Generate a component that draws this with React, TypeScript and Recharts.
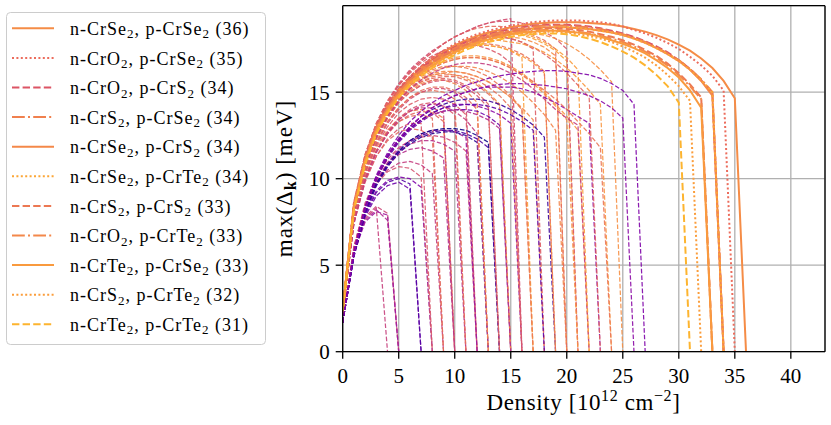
import React from 'react';
import { LineChart, Line, XAxis, YAxis, CartesianGrid, ReferenceLine } from 'recharts';

const X_MAX = 43.05;
const Y_MAX = 20;
const xTicks = [0, 5, 10, 15, 20, 25, 30, 35, 40];
const yTicks = [0, 5, 10, 15];

// highlighted pairs (legend order)
const nMaterial = ['CrSe', 'CrO', 'CrO', 'CrS', 'CrSe', 'CrSe', 'CrS', 'CrO', 'CrTe', 'CrS', 'CrTe'];
const pMaterial = ['CrSe', 'CrSe', 'CrS', 'CrSe', 'CrS', 'CrTe', 'CrS', 'CrTe', 'CrSe', 'CrTe', 'CrTe'];
const maxDensity = [36, 35, 34, 34, 34, 34, 33, 33, 33, 32, 31];

// max gap per density step (index = density in 1e12 cm^-2)
const seSe36 = [2.4, 8.5, 11.2, 13.0, 14.2, 15.1, 15.8, 16.4, 16.9, 17.3, 17.7, 18.0, 18.25, 18.45, 18.6, 18.75, 18.85, 18.95, 19.0, 19.05, 19.05, 19.05, 19.0, 18.95, 18.9, 18.8, 18.65, 18.5, 18.3, 18.05, 17.75, 17.4, 16.95, 16.4, 15.65, 14.65, 0];
const oSe35 = [2.4, 8.6, 11.3, 13.1, 14.3, 15.2, 15.9, 16.5, 17.0, 17.4, 17.8, 18.1, 18.35, 18.55, 18.7, 18.85, 18.95, 19.05, 19.1, 19.15, 19.15, 19.15, 19.1, 19.05, 18.95, 18.8, 18.6, 18.4, 18.15, 17.85, 17.5, 17.05, 16.55, 15.95, 15.1, 0];
const oS34 = [2.4, 8.5, 11.2, 13.0, 14.2, 15.1, 15.8, 16.4, 16.85, 17.25, 17.6, 17.9, 18.15, 18.35, 18.5, 18.65, 18.75, 18.85, 18.9, 18.9, 18.9, 18.85, 18.8, 18.7, 18.55, 18.4, 18.2, 17.95, 17.65, 17.3, 16.85, 16.35, 15.7, 14.9, 0];
const sSe34 = [2.4, 8.4, 11.1, 12.9, 14.1, 15.0, 15.7, 16.3, 16.8, 17.2, 17.55, 17.85, 18.1, 18.3, 18.45, 18.6, 18.7, 18.8, 18.85, 18.85, 18.85, 18.8, 18.75, 18.65, 18.5, 18.35, 18.15, 17.9, 17.6, 17.25, 16.85, 16.35, 15.75, 15.0, 0];
const seS34 = [2.4, 8.4, 11.1, 12.9, 14.1, 15.0, 15.7, 16.25, 16.7, 17.1, 17.45, 17.75, 18.0, 18.2, 18.35, 18.5, 18.6, 18.7, 18.75, 18.75, 18.75, 18.7, 18.65, 18.55, 18.45, 18.3, 18.1, 17.85, 17.55, 17.2, 16.8, 16.3, 15.65, 14.8, 0];
const seTe34 = [2.4, 8.3, 11.0, 12.8, 14.0, 14.9, 15.6, 16.2, 16.65, 17.05, 17.4, 17.7, 17.95, 18.15, 18.3, 18.45, 18.55, 18.65, 18.7, 18.75, 18.75, 18.7, 18.65, 18.55, 18.45, 18.3, 18.1, 17.85, 17.55, 17.2, 16.8, 16.3, 15.7, 15.0, 0];
const sS33 = [2.4, 8.4, 11.1, 12.9, 14.1, 15.0, 15.7, 16.25, 16.7, 17.1, 17.45, 17.75, 18.0, 18.2, 18.35, 18.5, 18.6, 18.65, 18.7, 18.7, 18.65, 18.6, 18.5, 18.35, 18.2, 18.0, 17.75, 17.45, 17.1, 16.65, 16.1, 15.45, 14.7, 0];
const oTe33 = [2.4, 8.3, 11.0, 12.8, 14.0, 14.9, 15.6, 16.15, 16.6, 17.0, 17.35, 17.65, 17.9, 18.1, 18.25, 18.4, 18.5, 18.55, 18.6, 18.6, 18.55, 18.5, 18.4, 18.25, 18.1, 17.9, 17.65, 17.35, 17.0, 16.55, 16.0, 15.35, 14.6, 0];
const teSe33 = [2.4, 8.3, 11.0, 12.75, 13.95, 14.85, 15.55, 16.1, 16.55, 16.95, 17.3, 17.6, 17.85, 18.05, 18.2, 18.35, 18.45, 18.5, 18.55, 18.55, 18.5, 18.45, 18.35, 18.2, 18.0, 17.8, 17.55, 17.25, 16.85, 16.4, 15.85, 15.1, 14.1, 0];
const sTe32 = [2.4, 8.2, 10.9, 12.7, 13.9, 14.8, 15.5, 16.05, 16.5, 16.9, 17.25, 17.55, 17.8, 18.0, 18.15, 18.3, 18.4, 18.45, 18.5, 18.5, 18.45, 18.35, 18.25, 18.1, 17.9, 17.65, 17.35, 17.0, 16.55, 16.0, 15.35, 14.5, 0];
const teTe31 = [2.4, 8.2, 10.8, 12.6, 13.8, 14.7, 15.4, 15.95, 16.4, 16.8, 17.15, 17.45, 17.7, 17.9, 18.05, 18.2, 18.3, 18.35, 18.4, 18.4, 18.35, 18.25, 18.1, 17.9, 17.65, 17.35, 17.0, 16.55, 16.0, 15.35, 14.4, 0];

const highlighted = [seSe36, oSe35, oS34, sSe34, seS34, seTe34, sS33, oTe33, teSe33, sTe32, teTe31];
const hiColors = ['#f58c46', '#ec6c5c', '#dc5565', '#f0804e', '#f48849', '#fca636', '#ec7853', '#f3884b', '#f99a3e', '#fb9d3b', '#fdb42f'];
const hiDash = ['', '2 2.4', '7.4 3.2', '12.8 3.2 2 3.2', '', '2 2.4', '7.4 3.2', '12.8 3.2 2 3.2', '', '2 2.4', '7.4 3.2'];

// all remaining pairs
const t04a = [1.7, 5.9, 7.7, 8.3, 0];
const t05a = [1.7, 5.8, 7.6, 8.2, 7.6, 0];
const t05b = [1.7, 6.0, 7.8, 8.4, 8.0, 0];
const t05c = [1.7, 5.7, 7.5, 8.1, 7.9, 0];
const t07a = [1.7, 5.5, 7.8, 9.0, 9.6, 9.8, 9.4, 0];
const t07b = [1.7, 5.6, 7.9, 9.2, 9.8, 10.0, 9.7, 0];
const t08a = [1.7, 5.6, 8.0, 9.3, 9.9, 10.1, 10.0, 9.5, 0];
const t08b = [1.7, 6.1, 8.4, 9.7, 10.4, 10.7, 10.6, 10.1, 0];
const t08c = [2.2, 7.4, 9.8, 11.3, 12.3, 12.9, 13.2, 13.2, 0];
const t09a = [1.7, 6.0, 8.4, 9.8, 10.5, 10.9, 11.0, 10.8, 10.3, 0];
const t09b = [2.2, 7.5, 9.9, 11.3, 12.2, 12.7, 12.9, 12.8, 12.4, 0];
const t09c = [2.2, 7.6, 10.1, 11.6, 12.6, 13.3, 13.6, 13.7, 13.5, 0];
const t10a = [2.2, 7.6, 10.1, 11.6, 12.6, 13.3, 13.7, 13.9, 13.8, 13.3, 0];
const t10b = [2.2, 7.8, 10.3, 11.8, 12.8, 13.5, 13.9, 14.0, 13.9, 13.5, 0];
const t10c = [1.7, 5.9, 8.3, 9.8, 10.8, 11.4, 11.7, 11.8, 11.6, 11.2, 0];
const t10d = [2.2, 7.5, 10.0, 11.6, 12.7, 13.4, 13.9, 14.1, 14.1, 13.8, 0];
const t11a = [2.2, 7.5, 10.0, 11.6, 12.7, 13.5, 14.0, 14.3, 14.4, 14.2, 13.7, 0];
const t11b = [1.7, 5.9, 8.4, 9.9, 10.9, 11.6, 12.0, 12.2, 12.2, 12.0, 11.6, 0];
const t11c = [2.2, 7.9, 10.5, 12.1, 13.3, 14.1, 14.7, 15.0, 15.1, 15.0, 14.6, 0];
const t12a = [2.2, 7.7, 10.3, 11.9, 13.0, 13.8, 14.3, 14.6, 14.7, 14.6, 14.3, 13.7, 0];
const t12b = [1.7, 6.0, 8.6, 10.1, 11.1, 11.8, 12.2, 12.4, 12.5, 12.4, 12.1, 11.6, 0];
const t12c = [2.2, 7.8, 10.4, 12.0, 13.2, 14.0, 14.6, 15.0, 15.2, 15.2, 15.0, 14.5, 0];
const t12d = [1.7, 5.7, 8.2, 9.8, 10.9, 11.7, 12.2, 12.6, 12.8, 12.8, 12.7, 12.4, 0];
const t13a = [1.7, 5.6, 8.0, 9.6, 10.7, 11.5, 12.0, 12.4, 12.6, 12.7, 12.7, 12.5, 12.1, 0];
const t13b = [2.2, 7.9, 10.5, 12.1, 13.3, 14.1, 14.7, 15.1, 15.3, 15.3, 15.1, 14.7, 14.0, 0];
const t13c = [2.2, 7.4, 9.9, 11.5, 12.6, 13.4, 13.9, 14.2, 14.3, 14.2, 13.9, 13.4, 12.6, 0];
const t13d = [2.2, 8.0, 10.7, 12.4, 13.6, 14.5, 15.1, 15.5, 15.7, 15.7, 15.5, 15.1, 14.4, 0];
const t14a = [1.7, 5.6, 8.1, 9.7, 10.8, 11.6, 12.2, 12.6, 12.8, 12.9, 12.9, 12.8, 12.5, 12.1, 0];
const t14b = [1.7, 5.5, 8.0, 9.6, 10.7, 11.5, 12.1, 12.5, 12.7, 12.8, 12.8, 12.6, 12.3, 11.8, 0];
const t14c = [2.2, 8.0, 10.7, 12.3, 13.5, 14.4, 15.0, 15.4, 15.6, 15.7, 15.6, 15.3, 14.8, 14.1, 0];
const t14d = [2.2, 7.9, 10.6, 12.3, 13.5, 14.4, 15.0, 15.4, 15.7, 15.8, 15.7, 15.4, 15.0, 14.3, 0];
const t15a = [1.7, 5.7, 8.3, 10.0, 11.2, 12.1, 12.8, 13.3, 13.7, 13.9, 14.0, 14.0, 13.9, 13.6, 13.1, 0];
const t15b = [2.2, 8.1, 10.8, 12.5, 13.7, 14.6, 15.2, 15.6, 15.8, 15.9, 15.9, 15.7, 15.4, 14.9, 14.2, 0];
const t15c = [2.2, 8.1, 10.9, 12.6, 13.9, 14.8, 15.4, 15.8, 16.0, 16.1, 16.0, 15.8, 15.5, 15.0, 14.3, 0];
const t15d = [1.7, 5.8, 8.4, 10.1, 11.3, 12.2, 12.9, 13.4, 13.7, 13.9, 14.0, 13.9, 13.7, 13.4, 12.9, 0];
const t16a = [1.7, 5.7, 8.3, 10.1, 11.3, 12.2, 12.9, 13.4, 13.8, 14.1, 14.3, 14.3, 14.2, 14.0, 13.7, 13.2, 0];
const t16b = [2.2, 8.0, 10.7, 12.4, 13.6, 14.5, 15.2, 15.6, 15.9, 16.0, 16.0, 15.9, 15.7, 15.3, 14.8, 14.1, 0];
const t16c = [2.3, 8.6, 11.4, 13.2, 14.5, 15.5, 16.3, 16.9, 17.4, 17.8, 18.2, 18.5, 18.8, 19.0, 19.15, 19.25, 0];
const t16d = [2.3, 8.5, 11.3, 13.1, 14.4, 15.4, 16.1, 16.7, 17.1, 17.4, 17.6, 17.7, 17.7, 17.5, 17.2, 16.7, 0];
const t17a = [2.2, 8.1, 10.8, 12.5, 13.7, 14.6, 15.3, 15.7, 16.0, 16.1, 16.2, 16.1, 15.9, 15.6, 15.2, 14.7, 14.0, 0];
const t17b = [2.3, 8.4, 11.0, 12.8, 14.0, 14.9, 15.6, 16.2, 16.7, 17.1, 17.4, 17.6, 17.7, 17.7, 17.6, 17.4, 17.0, 0];
const t17c = [2.2, 8.2, 10.9, 12.7, 13.9, 14.8, 15.5, 16.0, 16.3, 16.5, 16.5, 16.4, 16.2, 15.9, 15.4, 14.8, 14.0, 0];
const t18a = [2.2, 8.1, 10.8, 12.5, 13.8, 14.7, 15.4, 15.8, 16.1, 16.2, 16.2, 16.1, 15.9, 15.6, 15.2, 14.7, 14.1, 13.4, 0];
const t18b = [2.3, 8.5, 11.2, 13.0, 14.3, 15.2, 15.9, 16.5, 17.0, 17.4, 17.7, 18.0, 18.1, 18.2, 18.2, 18.1, 17.9, 17.5, 0];
const t18c = [1.7, 5.6, 8.2, 10.0, 11.3, 12.2, 12.9, 13.4, 13.8, 14.1, 14.2, 14.3, 14.3, 14.2, 14.0, 13.7, 13.3, 12.8, 0];
const t19a = [1.7, 5.6, 8.2, 10.0, 11.3, 12.3, 13.0, 13.6, 14.0, 14.3, 14.5, 14.6, 14.6, 14.5, 14.3, 14.0, 13.6, 13.1, 12.4, 0];
const t19b = [2.3, 8.3, 11.0, 12.8, 14.0, 14.9, 15.6, 16.2, 16.7, 17.1, 17.4, 17.6, 17.7, 17.7, 17.6, 17.4, 17.1, 16.7, 16.1, 0];
const t19c = [2.3, 8.4, 11.1, 12.9, 14.2, 15.1, 15.8, 16.4, 16.8, 17.2, 17.5, 17.7, 17.8, 17.8, 17.7, 17.5, 17.2, 16.8, 16.2, 0];
const t20a = [2.3, 8.3, 11.0, 12.8, 14.0, 14.9, 15.6, 16.2, 16.7, 17.1, 17.5, 17.8, 18.0, 18.1, 18.2, 18.2, 18.1, 17.9, 17.6, 17.1, 0];
const t20b = [2.2, 8.1, 10.8, 12.5, 13.8, 14.7, 15.4, 15.9, 16.2, 16.4, 16.5, 16.5, 16.4, 16.2, 15.9, 15.5, 15.0, 14.4, 13.7, 12.8, 0];
const t20c = [2.3, 8.6, 11.4, 13.2, 14.5, 15.4, 16.2, 16.8, 17.3, 17.8, 18.2, 18.5, 18.7, 18.8, 18.8, 18.7, 18.5, 18.3, 18.0, 17.5, 0];
const t21a = [2.3, 8.4, 11.1, 12.9, 14.1, 15.0, 15.7, 16.3, 16.8, 17.2, 17.6, 17.9, 18.1, 18.3, 18.4, 18.4, 18.3, 18.1, 17.8, 17.4, 16.8, 0];
const t21b = [2.3, 8.5, 11.3, 13.1, 14.4, 15.4, 16.2, 16.8, 17.3, 17.8, 18.2, 18.5, 18.8, 19.0, 19.1, 19.1, 19.0, 18.8, 18.5, 18.1, 17.5, 0];
const t21c = [2.2, 8.2, 10.9, 12.6, 13.9, 14.8, 15.5, 16.0, 16.4, 16.7, 16.9, 17.0, 17.0, 16.9, 16.7, 16.4, 16.0, 15.5, 14.9, 14.2, 13.4, 0];
const t22a = [2.3, 8.3, 11.0, 12.8, 14.0, 14.9, 15.6, 16.1, 16.5, 16.8, 17.0, 17.1, 17.1, 17.0, 16.8, 16.5, 16.1, 15.6, 15.0, 14.3, 13.6, 12.8, 0];
const t22b = [2.2, 8.0, 10.7, 12.4, 13.6, 14.5, 15.2, 15.7, 16.1, 16.4, 16.6, 16.7, 16.7, 16.6, 16.4, 16.1, 15.7, 15.2, 14.6, 14.0, 13.5, 13.1, 0];
const t22c = [2.3, 8.4, 11.1, 12.9, 14.2, 15.1, 15.8, 16.4, 16.9, 17.3, 17.7, 18.0, 18.2, 18.4, 18.5, 18.5, 18.4, 18.2, 17.9, 17.5, 17.0, 16.3, 0];
const t23a = [1.7, 5.6, 8.2, 10.0, 11.3, 12.3, 13.0, 13.6, 14.1, 14.5, 14.8, 15.0, 15.2, 15.3, 15.3, 15.3, 15.2, 15.0, 14.7, 14.4, 14.0, 13.6, 13.2, 0];
const t23b = [2.3, 8.4, 11.2, 13.0, 14.3, 15.2, 15.9, 16.5, 17.0, 17.4, 17.7, 17.9, 18.1, 18.2, 18.2, 18.1, 17.9, 17.6, 17.2, 16.7, 16.1, 15.4, 14.7, 0];
const t24a = [2.3, 8.3, 11.0, 12.8, 14.0, 14.9, 15.6, 16.2, 16.7, 17.1, 17.4, 17.7, 17.9, 18.0, 18.0, 17.9, 17.8, 17.6, 17.3, 16.9, 16.4, 15.8, 15.1, 14.3, 0];
const t24b = [2.2, 8.2, 10.9, 12.7, 13.9, 14.8, 15.5, 16.0, 16.4, 16.7, 16.9, 17.0, 17.0, 16.9, 16.7, 16.4, 16.0, 15.6, 15.1, 14.6, 14.0, 13.3, 12.6, 11.8, 0];
const t25a = [2.3, 8.3, 11.0, 12.8, 14.1, 15.0, 15.7, 16.3, 16.8, 17.2, 17.6, 17.9, 18.1, 18.3, 18.4, 18.5, 18.5, 18.4, 18.3, 18.1, 17.8, 17.4, 16.9, 16.3, 15.6, 0];
const t26a = [1.7, 5.7, 8.3, 10.1, 11.4, 12.3, 13.0, 13.6, 14.1, 14.5, 14.8, 15.0, 15.2, 15.35, 15.45, 15.5, 15.5, 15.45, 15.4, 15.3, 15.2, 15.0, 14.8, 14.5, 14.1, 13.5, 0];
const t27a = [1.7, 5.8, 8.4, 10.2, 11.5, 12.5, 13.3, 13.9, 14.4, 14.8, 15.1, 15.4, 15.6, 15.8, 15.95, 16.05, 16.15, 16.2, 16.25, 16.25, 16.2, 16.1, 16.0, 15.8, 15.5, 15.1, 14.3, 0];

const thinCurves = [
  t04a, t05a, t05b, t05c, t07a, t07b, t08a, t08b, t08c, t09a, t09b, t09c, t10a, t10b, t10c, t10d,
  t11a, t11b, t11c, t12a, t12b, t12c, t12d, t13a, t13b, t13c, t13d, t14a, t14b, t14c, t14d,
  t15a, t15b, t15c, t15d, t16a, t16b, t16c, t16d, t17a, t17b, t17c, t18a, t18b, t18c,
  t19a, t19b, t19c, t20a, t20b, t20c, t21a, t21b, t21c, t22a, t22b, t22c, t23a, t23b,
  t24a, t24b, t25a, t26a, t27a,
];
const thinColors = [
  '#c6417d', '#b12a90', '#cc4778', '#a01a9c', '#6a00a8', '#5302a3', '#7e03a8', '#d5536f', '#d8576b', '#c43e7f', '#e26561', '#e36a5d', '#e16462', '#ef7e50', '#b52f8c', '#c8437b',
  '#d8576b', '#b83289', '#e8705b', '#db5c68', '#cc4778', '#d14e72', '#9c179e', '#2a0593', '#e66c5c', '#c33d80', '#f2844b', '#0d0887', '#4c02a1', '#d6556d', '#e16462',
  '#6a00a8', '#e56b5d', '#f48f44', '#b52f8c', '#8b0aa5', '#e97158', '#d14e72', '#da5a6a', '#f07f4f', '#fb9f3a', '#ec7853', '#f48849', '#dd5e66', '#5c01a6',
  '#3b049a', '#f9983e', '#e97158', '#f58c46', '#f3854b', '#e66c5c', '#fa9e3b', '#d8576b', '#f68d45', '#f89441', '#c33d80', '#fa9b3d', '#8f0da4', '#e0625f',
  '#f8963f', '#ea7457', '#f68f44', '#8b0aa5', '#7e03a8',
];

const toPoints = (ys: number[]) => ys.map((y, x) => ({ x, y }));

const FONT = 'Liberation Serif';
const serif = { fontFamily: FONT };

const Overlay = () => (
  <svg width={831} height={425} style={{ position: 'absolute', left: 0, top: 0, pointerEvents: 'none' }}>
    <rect x={6.5} y={12.5} width={259} height={332} rx={4} fill="#fff" fillOpacity={0.8} stroke="#cccccc" strokeWidth={1} />
    {maxDensity.map((d, i) => {
      const cy = 28.3 + 29.6 * i;
      return (
        <g key={i}>
          <line x1={12} x2={54} y1={cy} y2={cy} stroke={hiColors[i]} strokeWidth={2} strokeDasharray={hiDash[i] || undefined} />
          <text x={70} y={cy + 6.6} fontSize={18} style={serif} letterSpacing={1} fill="#000">
            n-{nMaterial[i]}<tspan fontSize={13} dy={3.5}>2</tspan>
            <tspan dy={-3.5}>, p-{pMaterial[i]}</tspan><tspan fontSize={13} dy={3.5}>2</tspan>
            <tspan dy={-3.5}>{` (${d})`}</tspan>
          </text>
        </g>
      );
    })}
    <text x={583.5} y={410} textAnchor="middle" fontSize={23} style={serif} letterSpacing={0.6} fill="#000">
      Density [10<tspan fontSize={16} dy={-9}>12</tspan><tspan dy={9}> cm</tspan>
      <tspan fontSize={16} dy={-9}>−2</tspan><tspan dy={9}>]</tspan>
    </text>
    <text transform="translate(291.5,178.5) rotate(-90)" textAnchor="middle" fontSize={23} style={serif} letterSpacing={1} fill="#000">
      max(Δ<tspan fontSize={16} dy={4} fontWeight="bold">k</tspan><tspan dy={-4}>) [meV]</tspan>
    </text>
  </svg>
);

export default function App() {
  return (
    <div style={{ position: 'absolute', left: 0, top: 0, width: 831, height: 425, background: '#fff', fontFamily: FONT }}>
      <LineChart width={831} height={425} margin={{ top: 5.7, right: 6, left: 282.7, bottom: 33.3 }} style={serif}>
        <CartesianGrid stroke="#b0b0b0" strokeWidth={1.3} />
        <XAxis
          type="number"
          dataKey="x"
          domain={[0, X_MAX]}
          ticks={xTicks}
          interval={0}
          allowDataOverflow
          height={40}
          tickSize={7}
          tickMargin={9}
          axisLine={{ stroke: '#000', strokeWidth: 1.3 }}
          tickLine={{ stroke: '#000', strokeWidth: 1.3 }}
          tick={{ fill: '#000', fontSize: 21, style: serif }}
        />
        <YAxis
          type="number"
          domain={[0, Y_MAX]}
          ticks={yTicks}
          interval={0}
          allowDataOverflow
          width={60}
          tickSize={7}
          tickMargin={6}
          axisLine={{ stroke: '#000', strokeWidth: 1.3 }}
          tickLine={{ stroke: '#000', strokeWidth: 1.3 }}
          tick={{ fill: '#000', fontSize: 21, style: serif }}
        />
        {thinCurves.map((ys, i) => (
          <Line
            key={`thin-${i}`}
            data={toPoints(ys)}
            dataKey="y"
            type="linear"
            dot={false}
            activeDot={false}
            stroke={thinColors[i]}
            strokeOpacity={0.9}
            strokeWidth={1.25}
            strokeDasharray="4.6 2"
            isAnimationActive={false}
          />
        ))}
        {highlighted.map((ys, i) => (
          <Line
            key={`hi-${i}`}
            data={toPoints(ys)}
            dataKey="y"
            type="linear"
            dot={false}
            activeDot={false}
            stroke={hiColors[i]}
            strokeWidth={2}
            strokeDasharray={hiDash[i] || undefined}
            isAnimationActive={false}
          />
        ))}
        <ReferenceLine y={Y_MAX} stroke="#000" strokeWidth={1.3} ifOverflow="visible" />
        <ReferenceLine x={X_MAX} stroke="#000" strokeWidth={1.3} ifOverflow="visible" />
      </LineChart>
      <Overlay />
    </div>
  );
}
